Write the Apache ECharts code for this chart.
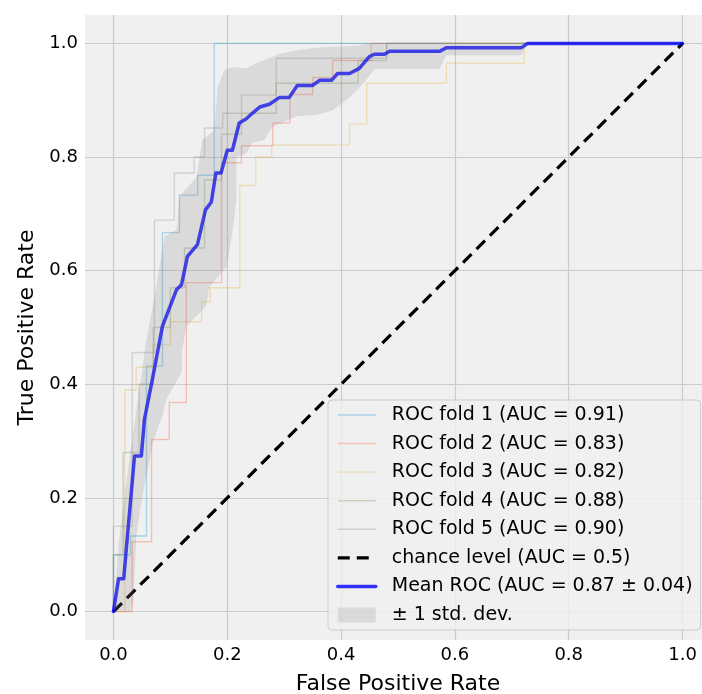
<!DOCTYPE html>
<html><head><meta charset="utf-8">
<script src="https://cdn.jsdelivr.net/npm/echarts@6/dist/echarts.min.js"></script>
<style>html,body{margin:0;padding:0;background:#fff}#c{width:702px;height:694px}</style>
</head><body><div id="c"></div>
<script>
// ---- tick labels ----
const tickValues = [0, 0.2, 0.4, 0.6, 0.8, 1.0];
const tickLabels = ['0.0', '0.2', '0.4', '0.6', '0.8', '1.0'];

// ---- series names ----
const seriesNames = [
  'ROC fold 1 (AUC = 0.91)',
  'ROC fold 2 (AUC = 0.83)',
  'ROC fold 3 (AUC = 0.82)',
  'ROC fold 4 (AUC = 0.88)',
  'ROC fold 5 (AUC = 0.90)',
  'chance level (AUC = 0.5)',
  'Mean ROC (AUC = 0.87 ± 0.04)',
  '± 1 std. dev.'
];

// ---- fold ROC curves (corner points) ----
const fold1Fpr = [0, 0, 0.03, 0.03, 0.058, 0.058, 0.086, 0.086, 0.116, 0.116, 0.148, 0.148, 0.177, 0.177, 1];
const fold1Tpr = [0, 0.1, 0.1, 0.133, 0.133, 0.432, 0.432, 0.667, 0.667, 0.733, 0.733, 0.768, 0.768, 1, 1];

const fold2Fpr = [0, 0.033, 0.033, 0.067, 0.067, 0.098, 0.098, 0.128, 0.128, 0.19, 0.19, 0.225, 0.225, 0.28, 0.28, 0.31, 0.31, 0.35, 0.35, 0.385, 0.385, 0.453, 0.453, 1];
const fold2Tpr = [0, 0, 0.123, 0.123, 0.303, 0.303, 0.368, 0.368, 0.579, 0.579, 0.79, 0.79, 0.82, 0.82, 0.86, 0.86, 0.91, 0.91, 0.94, 0.94, 0.97, 0.97, 1, 1];

const fold3Fpr = [0, 0.02, 0.02, 0.04, 0.04, 0.07, 0.07, 0.10, 0.10, 0.155, 0.155, 0.17, 0.17, 0.222, 0.222, 0.25, 0.25, 0.278, 0.278, 0.415, 0.415, 0.445, 0.445, 0.585, 0.585, 0.722, 0.722, 1];
const fold3Tpr = [0, 0, 0.39, 0.39, 0.43, 0.43, 0.47, 0.47, 0.51, 0.51, 0.545, 0.545, 0.57, 0.57, 0.75, 0.75, 0.80, 0.80, 0.821, 0.821, 0.858, 0.858, 0.93, 0.93, 0.965, 0.965, 1, 1];

const fold4Fpr = [0, 0, 0.017, 0.017, 0.045, 0.045, 0.07, 0.07, 0.10, 0.10, 0.125, 0.125, 0.16, 0.16, 0.19, 0.19, 0.225, 0.225, 0.286, 0.286, 0.43, 0.43, 0.48, 0.48, 1];
const fold4Tpr = [0, 0.1, 0.1, 0.28, 0.28, 0.40, 0.40, 0.50, 0.50, 0.57, 0.57, 0.64, 0.64, 0.76, 0.76, 0.84, 0.84, 0.877, 0.877, 0.93, 0.93, 0.97, 0.97, 1, 1];

const fold5Fpr = [0, 0, 0.033, 0.033, 0.072, 0.072, 0.107, 0.107, 0.142, 0.142, 0.16, 0.16, 0.192, 0.192, 0.225, 0.225, 0.286, 0.286, 0.48, 0.48, 1];
const fold5Tpr = [0, 0.15, 0.15, 0.456, 0.456, 0.689, 0.689, 0.772, 0.772, 0.80, 0.80, 0.851, 0.851, 0.877, 0.877, 0.909, 0.909, 0.974, 0.974, 1, 1];

// ---- chance level ----
const chanceFpr = [0, 1];
const chanceTpr = [0, 1];

// ---- mean ROC ----
const meanFpr = [0, 0.009, 0.018, 0.037, 0.049, 0.0545, 0.0685, 0.086, 0.111, 0.1195, 0.130, 0.1476, 0.1617, 0.172, 0.180, 0.189, 0.200, 0.209, 0.221, 0.233, 0.244, 0.257, 0.274, 0.292, 0.309, 0.323, 0.350, 0.362, 0.383, 0.394, 0.415, 0.432, 0.450, 0.459, 0.476, 0.485, 0.573, 0.585, 0.717, 0.728, 1.0];
const meanTpr = [0, 0.058, 0.058, 0.274, 0.274, 0.339, 0.409, 0.502, 0.567, 0.575, 0.625, 0.646, 0.707, 0.721, 0.772, 0.772, 0.812, 0.812, 0.860, 0.867, 0.877, 0.888, 0.893, 0.905, 0.905, 0.926, 0.926, 0.935, 0.935, 0.947, 0.947, 0.956, 0.977, 0.981, 0.981, 0.986, 0.986, 0.9925, 0.9925, 1.0, 1.0];

// ---- ±1 std band ----
const upperFpr = [0, 0.009, 0.028, 0.058, 0.072, 0.084, 0.090, 0.111, 0.116, 0.146, 0.156, 0.177, 0.183, 0.195, 0.209, 0.234, 0.251, 0.292, 0.327, 0.362, 0.427, 0.45, 1.0];
const upperTpr = [0, 0.119, 0.268, 0.479, 0.554, 0.625, 0.660, 0.672, 0.730, 0.765, 0.830, 0.847, 0.923, 0.953, 0.958, 0.956, 0.965, 0.982, 0.989, 0.993, 0.996, 1.0, 1.0];
const lowerFpr = [0, 0.03, 0.035, 0.04, 0.05, 0.06, 0.07, 0.086, 0.093, 0.12, 0.121, 0.128, 0.163, 0.169, 0.199, 0.209, 0.216, 0.216, 0.234, 0.244, 0.265, 0.279, 0.297, 0.322, 0.357, 0.385, 0.415, 0.436, 0.459, 0.573, 0.585, 0.717, 0.728, 1.0];
const lowerTpr = [0, 0, 0.02, 0.13, 0.2, 0.25, 0.3, 0.344, 0.374, 0.421, 0.461, 0.502, 0.537, 0.572, 0.607, 0.667, 0.725, 0.80, 0.807, 0.825, 0.830, 0.853, 0.861, 0.872, 0.874, 0.882, 0.905, 0.926, 0.955, 0.955, 0.979, 0.979, 1.0, 1.0];

// ---- build ----
const zip = (a, b) => a.map((v, i) => [v, b[i]]);
const FONT = 'DejaVu Sans';
const foldColors = ['rgba(0,143,213,0.3)', 'rgba(252,79,48,0.3)', 'rgba(229,174,56,0.3)', 'rgba(109,144,79,0.3)', 'rgba(139,139,139,0.3)'];
const foldData = [zip(fold1Fpr, fold1Tpr), zip(fold2Fpr, fold2Tpr), zip(fold3Fpr, fold3Tpr), zip(fold4Fpr, fold4Tpr), zip(fold5Fpr, fold5Tpr)];

const series = [];
foldData.forEach((d, i) => {
  series.push({
    name: seriesNames[i], type: 'line', data: d, symbol: 'none', silent: true,
    lineStyle: { color: foldColors[i], width: 1.4 }, itemStyle: { color: foldColors[i] }, z: 2
  });
});
series.push({
  name: seriesNames[5], type: 'line', data: zip(chanceFpr, chanceTpr), symbol: 'none', silent: true,
  lineStyle: { color: '#000', width: 3.2, type: [12, 7] }, itemStyle: { color: '#000' }, z: 3
});
series.push({
  name: seriesNames[6], type: 'line', data: zip(meanFpr, meanTpr), symbol: 'none', silent: true,
  lineStyle: { color: 'rgba(0,0,255,0.8)', width: 3.5, cap: 'round', join: 'round' }, itemStyle: { color: 'rgba(0,0,255,0.8)' }, z: 4
});
const upperPts = zip(upperFpr, upperTpr);
const lowerPts = zip(lowerFpr, lowerTpr);
series.push({
  name: seriesNames[7], type: 'custom', silent: true, z: 5,
  itemStyle: { color: 'rgba(128,128,128,0.2)' },
  data: [[0, 0]],
  renderItem: function (params, api) {
    const pts = upperPts.map(p => api.coord(p)).concat(lowerPts.slice().reverse().map(p => api.coord(p)));
    return { type: 'polygon', shape: { points: pts }, style: { fill: 'rgba(128,128,128,0.2)' } };
  }
});

const legendData = seriesNames.map((n, i) => {
  if (i === 7) return { name: n, icon: 'rect', itemStyle: { color: 'rgba(128,128,128,0.2)', opacity: 1 } };
  const w = i < 5 ? 1.4 : (i === 5 ? 3.2 : 3.5);
  return { name: n, itemStyle: { opacity: 0 }, lineStyle: { width: w } };
});

const labelFmt = v => {
  const k = tickValues.findIndex(t => Math.abs(t - v) < 1e-9);
  return k >= 0 ? tickLabels[k] : '';
};

const chart = echarts.init(document.getElementById('c'), null, { renderer: 'canvas' });
chart.setOption({
  animation: false,
  backgroundColor: '#ffffff',
  grid: { left: 85, top: 15, width: 626, height: 625, backgroundColor: '#f0f0f0', show: true, borderWidth: 0, outerBoundsMode: 'none', containLabel: false },
  xAxis: {
    type: 'value', min: -0.05, max: 1.05,
    name: 'False Positive Rate', nameLocation: 'middle', nameGap: 33,
    nameTextStyle: { fontFamily: FONT, fontSize: 22, color: '#000' },
    axisLine: { show: false },
    axisTick: { show: false, customValues: tickValues },
    axisLabel: { customValues: tickValues, formatter: labelFmt, fontFamily: FONT, fontSize: 18, color: '#000', margin: 6 },
    splitLine: { show: true, lineStyle: { color: '#cbcbcb', width: 1.2 } }
  },
  yAxis: {
    type: 'value', min: -0.05, max: 1.05,
    name: 'True Positive Rate', nameLocation: 'middle', nameGap: 47,
    nameTextStyle: { fontFamily: FONT, fontSize: 22, color: '#000' },
    axisLine: { show: false },
    axisTick: { show: false, customValues: tickValues },
    axisLabel: { customValues: tickValues, formatter: labelFmt, fontFamily: FONT, fontSize: 18, color: '#000', margin: 7 },
    splitLine: { show: true, lineStyle: { color: '#cbcbcb', width: 1.2 } }
  },
  legend: {
    data: legendData, orient: 'vertical', left: 328, top: 400,
    itemWidth: 38, itemHeight: 15, itemGap: 9.57,
    padding: [5.5, 8, 5.5, 8],
    backgroundColor: 'rgba(240,240,240,0.8)', borderColor: '#cccccc', borderWidth: 1, borderRadius: 4,
    selectedMode: false,
    textStyle: { fontFamily: FONT, fontSize: 19, color: '#000', lineHeight: 19, padding: [0, 0, 0, 11] }
  },
  series: series
});
</script>
</body></html>
